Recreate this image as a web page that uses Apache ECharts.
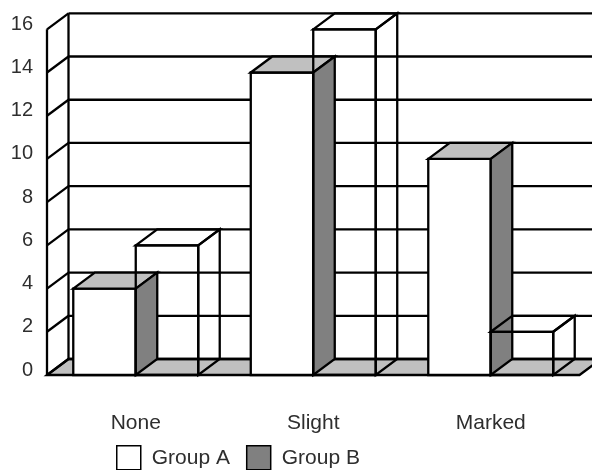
<!DOCTYPE html>
<html>
<head>
<meta charset="utf-8">
<script src="https://cdn.jsdelivr.net/npm/echarts@6/dist/echarts.min.js"></script>
<style>
  html, body { margin: 0; padding: 0; background: #fff; }
  #chart { width: 592px; height: 470px; }
</style>
</head>
<body>
<div id="chart"></div>
<script>
// Categories, series values and value-axis ticks
const categories = ['None', 'Slight', 'Marked'];
const groupA = [4, 14, 10];
const groupB = [6, 16, 2];
const yTicks = [0, 2, 4, 6, 8, 10, 12, 14, 16];

// Pseudo-3D look: depth offset of every box, and bar width as a share of the category band
const DX = 21.5, DY = 16;
const BAR_FRAC = 0.352;
const FONT = '"Liberation Sans", Arial, Helvetica, sans-serif';
const TEXT = '#2e2e2e';
const EDGE = { stroke: '#000', lineWidth: 2.3, lineJoin: 'miter' };

// Floor and the vertical edges of the left wall
function renderFrame(params, api) {
  const cs = params.coordSys;
  const yMax = yTicks[yTicks.length - 1];
  const y0 = api.coord([0, 0])[1];
  const yTop = api.coord([0, yMax])[1];
  const left = cs.x, right = cs.x + cs.width;
  return {
    type: 'group',
    children: [
      { type: 'polygon',
        shape: { points: [[left, y0], [right, y0], [right + DX, y0 - DY], [left + DX, y0 - DY]] },
        style: Object.assign({ fill: '#c0c0c0' }, EDGE) },
      { type: 'line', shape: { x1: left, y1: y0, x2: left, y2: yTop }, style: EDGE },
      { type: 'line', shape: { x1: left + DX, y1: y0 - DY, x2: left + DX, y2: yTop - DY }, style: EDGE }
    ]
  };
}

// One gridline per tick: along the back wall plus the diagonal on the left wall
function renderGridLine(params, api) {
  const cs = params.coordSys;
  const yF = api.coord([0, api.value(1)])[1];
  const left = cs.x, right = cs.x + cs.width;
  return {
    type: 'group',
    children: [
      { type: 'line', shape: { x1: left + DX, y1: yF - DY, x2: right + DX, y2: yF - DY }, style: EDGE },
      { type: 'line', shape: { x1: left, y1: yF, x2: left + DX, y2: yF - DY }, style: EDGE }
    ]
  };
}

// Box-shaped bar; side 0 sits left of the band centre, side 1 right of it
function boxRenderer(side, faces) {
  return function (params, api) {
    const ci = api.value(0), v = api.value(1);
    const top = api.coord([ci, v]);
    const base = api.coord([ci, 0]);
    const w = api.size([1, 0])[0] * BAR_FRAC;
    const x0 = side === 0 ? top[0] - w : top[0];
    const x1 = x0 + w;
    const yT = top[1], yB = base[1];
    const poly = (pts, fill) => ({
      type: 'polygon', shape: { points: pts },
      style: Object.assign({ fill: fill }, EDGE)
    });
    return {
      type: 'group',
      children: [
        poly([[x0, yT], [x1, yT], [x1, yB], [x0, yB]], faces.front),
        poly([[x0, yT], [x0 + DX, yT - DY], [x1 + DX, yT - DY], [x1, yT]], faces.top),
        poly([[x1, yT], [x1 + DX, yT - DY], [x1 + DX, yB - DY], [x1, yB]], faces.side)
      ]
    };
  };
}

const chart = echarts.init(document.getElementById('chart'), null, { renderer: 'canvas' });
chart.setOption({
  animation: false,
  backgroundColor: '#fff',
  grid: { left: 47, right: 12.5, top: 29.3, bottom: 95, containLabel: false },
  xAxis: {
    type: 'category',
    data: categories,
    axisLine: { show: false },
    axisTick: { show: false },
    splitLine: { show: false },
    axisLabel: { margin: 38, fontSize: 21, color: TEXT, fontFamily: FONT }
  },
  yAxis: {
    type: 'value',
    min: 0, max: 16, interval: 2,
    axisLine: { show: false },
    axisTick: { show: false },
    splitLine: { show: false },
    axisLabel: {
      margin: 14, color: TEXT,
      formatter: v => '{t|' + v + '}',
      rich: { t: { fontSize: 20, color: TEXT, fontFamily: FONT, padding: [0, 0, 10, 0] } }
    }
  },
  legend: {
    left: 116, top: 445, padding: 0,
    icon: 'rect', itemWidth: 24, itemHeight: 24, itemGap: 16,
    textStyle: { fontSize: 21, color: TEXT, fontFamily: FONT, padding: [0, 0, 0, 6] },
    data: [
      { name: 'Group A', itemStyle: { color: '#fff', borderColor: '#000', borderWidth: 1.5 } },
      { name: 'Group B', itemStyle: { color: '#808080', borderColor: '#000', borderWidth: 1.5 } }
    ]
  },
  series: [
    { type: 'custom', name: 'frame', clip: false, silent: true, z: 1,
      renderItem: renderFrame, data: [[0, 0]] },
    { type: 'custom', name: 'grid', clip: false, silent: true, z: 2,
      renderItem: renderGridLine, data: yTicks.map(t => [0, t]) },
    { type: 'custom', name: 'Group A', clip: false, z: 3,
      itemStyle: { color: '#fff' },
      renderItem: boxRenderer(0, { front: '#fff', top: '#c0c0c0', side: '#808080' }),
      data: groupA.map((v, i) => [i, v]) },
    { type: 'custom', name: 'Group B', clip: false, z: 4,
      itemStyle: { color: '#808080' },
      renderItem: boxRenderer(1, { front: 'none', top: 'none', side: 'none' }),
      data: groupB.map((v, i) => [i, v]) }
  ]
});
</script>
</body>
</html>
